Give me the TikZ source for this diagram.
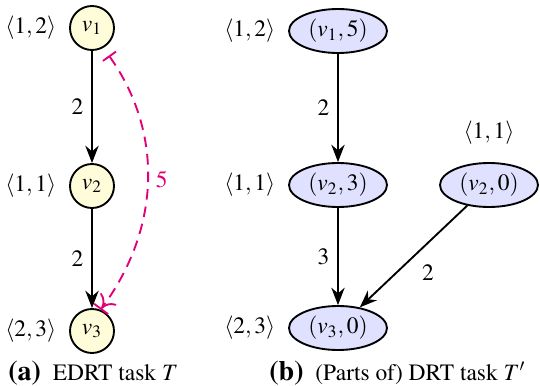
\documentclass[tikz,border=0pt]{standalone}
\usepackage[T1]{fontenc}
\usepackage{mathptmx}
\usepackage{xcolor}
\usetikzlibrary{shapes, arrows.meta, positioning}

\definecolor{deadline}{RGB}{226,0,122}
\tikzset{
    vtx/.style={draw, thick, circle, fill=yellow!15, minimum size=0.66cm, inner sep=0pt},
    job/.style={draw, thick, ellipse, fill=blue!12, minimum width=1.47cm, minimum height=0.66cm, inner sep=0pt},
    edge/.style={thick, -{Stealth[length=2.6mm, width=2mm]}},
    dl/.style={thick, dash pattern=on 4.5pt off 3pt, deadline, {Bar[width=2.4mm]}-{To[length=1.8mm, width=3mm]Bar[width=2.6mm]}},
}

\begin{document}
\begin{tikzpicture}[x=0.015cm, y=-0.015cm]
    \useasboundingbox (0,0) rectangle (540,386);

    % (a) EDRT task
    \node[vtx] (v1) at (92,28) {$v_1$};
    \node[vtx] (v2) at (92,186) {$v_2$};
    \node[vtx] (v3) at (92,331) {$v_3$};
    \node[left=2pt of v1] (p1) {$\langle 1,2\rangle$};
    \node[left=2pt of v2] (p2) {$\langle 1,1\rangle$};
    \node[left=2pt of v3] (p3) {$\langle 2,3\rangle$};

    \draw[edge] (v1) -- node[left] {$2$} (v2);
    \draw[edge] (v2) -- node[left] {$2$} (v3);
    \draw[dl, shorten <=4pt] (v1.-60) to[bend left=36] node[right, deadline] {$5$} (v3.68);

    % (b) DRT task
    \node[job] (j1) at (338,31) {$(v_1,5)$};
    \node[job] (j2) at (338,185) {$(v_2,3)$};
    \node[job] (j3) at (489,185) {$(v_2,0)$};
    \node[job] (j4) at (338,328) {$(v_3,0)$};
    \node[left=2pt of j1] (q1) {$\langle 1,2\rangle$};
    \node[left=2pt of j2] (q2) {$\langle 1,1\rangle$};
    \node[above=4pt of j3] (q3) {$\langle 1,1\rangle$};
    \node[left=2pt of j4] (q4) {$\langle 2,3\rangle$};

    \draw[edge] (j1) -- node[left] {$2$} (j2);
    \draw[edge] (j2) -- node[left] {$3$} (j4);
    \draw[edge] (j3) -- node[below right] {$2$} (j4);

    % captions
    \node[anchor=west] (capa) at (0,373) {{\large\bfseries (a)}\ \ EDRT task $T$};
    \node[anchor=west] (capb) at (261,373) {{\large\bfseries (b)}\ \ (Parts of) DRT task $T'$};
\end{tikzpicture}
\end{document}
